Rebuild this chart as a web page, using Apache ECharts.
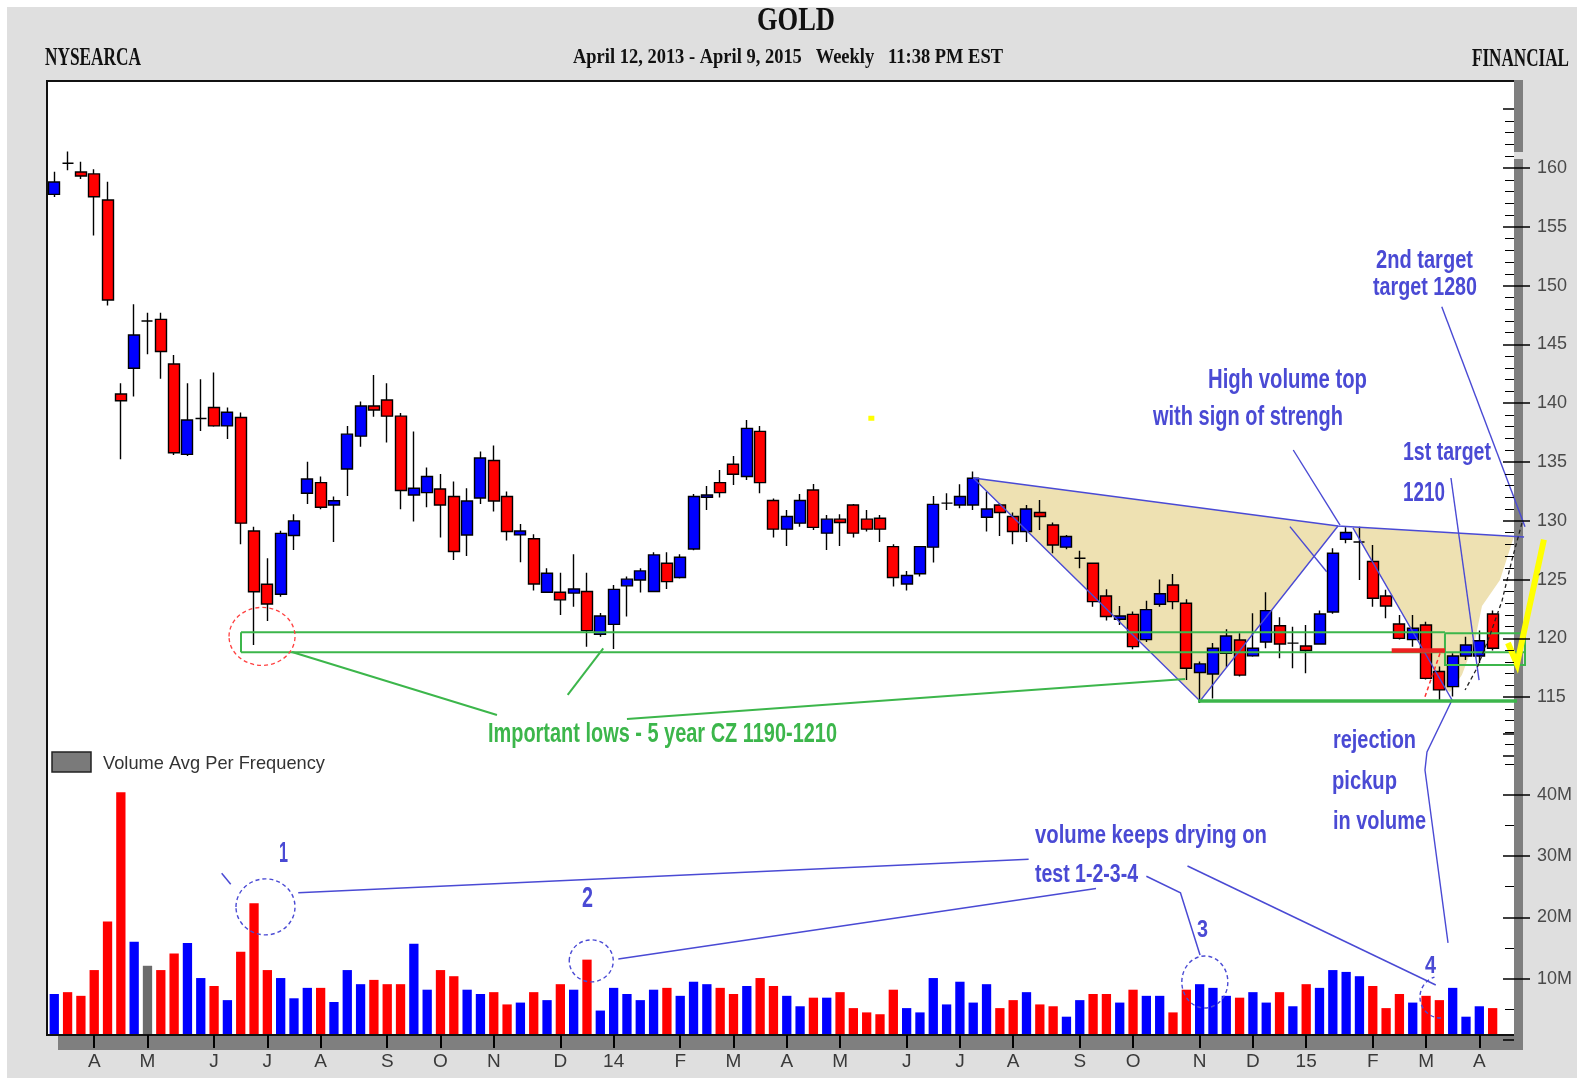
<!DOCTYPE html>
<html><head><meta charset="utf-8">
<script src="https://cdn.jsdelivr.net/npm/echarts/dist/echarts.min.js"></script>
<style>html,body{margin:0;padding:0;background:#fff;}#c{width:1577px;height:1083px;}</style>
</head><body><div id="c"></div>
<script>
// ---------------- DATA (weekly bars) ----------------
const openP = [157.76,160.4,159.66,159.5,157.28,140.78,142.97,146.99,147.13,143.33,
135.65,138.7,139.63,138.07,138.78,129.13,124.6,123.75,128.75,132.34,
133.25,131.34,134.41,137.2,139.76,140.27,138.9,132.2,132.4,132.7,
132.07,128.79,131.94,135.13,132.07,128.8,128.47,123.93,123.93,123.85,
123.99,120.35,121.19,124.47,124.97,123.99,126.39,125.18,127.6,132.0,
133.25,134.81,133.77,137.6,131.72,129.29,129.8,132.62,128.95,130.14,
131.34,130.14,130.22,127.8,124.63,125.5,127.76,131.5,131.34,131.34,
130.3,131.34,130.36,129.09,130.7,129.64,127.76,126.82,126.39,123.6,
121.63,122.04,119.9,122.9,124.54,122.99,117.1,116.97,118.74,119.86,
118.51,119.7,121.07,119.6,119.36,119.52,122.24,128.43,128.2,126.54,
123.6,121.22,119.9,121.14,117.18,115.9,118.5,118.5,122.07];
const closeP = [158.81,160.4,159.32,157.56,148.78,140.21,145.8,146.99,144.4,135.79,
138.57,138.7,138.07,139.23,129.8,123.97,122.93,128.93,129.99,133.55,
131.15,131.71,137.37,139.76,139.42,138.9,132.58,132.77,133.77,131.34,
127.39,131.68,135.34,131.68,129.09,129.13,124.63,125.54,123.28,124.2,
120.66,121.9,124.17,125.04,125.74,127.1,124.83,126.9,132.07,132.2,
132.4,133.96,137.86,133.25,129.29,130.36,131.72,129.44,130.14,129.85,
128.95,129.29,129.29,125.18,125.35,127.8,131.4,131.5,132.07,133.62,
131.0,130.7,129.09,131.0,130.36,127.94,128.67,126.82,123.13,121.86,
121.9,119.3,122.45,123.8,123.13,117.46,117.83,119.16,120.2,116.88,
119.16,122.36,119.52,119.6,118.97,122.07,127.24,129.0,128.2,123.42,
122.76,120.0,120.86,116.6,115.62,118.5,119.44,119.8,119.16];
const lowP = [157.53,159.8,159.06,154.26,148.3,135.24,140.57,144.16,142.08,135.6,
135.5,137.64,138.0,136.96,128.0,119.44,121.47,123.55,127.52,131.43,
130.98,128.19,132.1,136.3,138.85,136.66,130.98,129.94,131.15,128.58,
126.67,127.0,131.43,130.79,128.33,126.48,124.07,123.9,121.98,122.7,
119.3,120.15,119.1,121.86,123.9,123.95,124.2,125.1,127.5,130.92,
131.98,133.04,133.47,132.34,128.58,127.86,129.5,129.22,127.52,127.86,
128.58,129.09,128.19,124.41,124.07,125.26,126.45,130.92,131.07,130.92,
129.09,128.71,128.0,128.19,129.22,127.24,127.58,125.97,122.7,121.52,
121.14,119.08,119.7,122.7,122.48,116.46,114.5,114.9,117.55,116.75,
118.45,119.16,118.31,117.47,117.04,119.45,122.1,128.1,124.97,122.7,
121.72,119.9,119.3,116.5,114.76,115.05,118.16,117.9,118.97];
const highP = [159.69,161.4,160.54,159.9,158.84,141.69,148.41,147.7,147.7,144.1,
141.69,142.04,142.61,139.63,139.2,129.5,126.82,129.16,130.56,135.03,
133.77,132.07,138.06,140.14,142.4,141.69,139.17,137.6,134.53,133.98,
133.34,132.77,135.9,136.41,132.49,129.73,128.86,125.97,125.59,127.16,
125.59,122.15,124.54,125.26,125.97,127.33,127.33,127.16,132.27,132.96,
134.32,135.51,138.57,138.06,131.9,130.92,132.27,133.13,130.5,130.56,
131.43,130.92,130.5,128.0,125.74,127.85,132.1,132.34,133.1,134.19,
132.49,131.5,130.7,131.34,131.77,129.85,128.8,127.46,126.45,124.17,
122.76,122.28,123.2,125.0,125.48,123.33,118.03,119.6,120.77,120.43,
122.14,123.93,121.8,121.0,121.14,122.37,127.66,129.45,129.5,127.94,
124.13,122.0,122.0,121.42,117.6,118.74,120.15,120.67,122.37];
// volume in millions
const volumeM = [7.5,7.8,7.2,11.4,19.3,40.4,16.0,12.1,11.4,14.1,
15.8,10.1,8.8,6.5,14.4,22.3,11.4,10.1,6.8,8.5,
8.5,6.2,11.4,9.1,9.8,9.1,9.1,15.7,8.2,11.4,
10.4,8.2,7.5,7.8,5.8,6.1,7.8,6.5,9.1,8.2,
13.1,4.8,8.5,7.5,6.5,8.2,8.5,7.2,9.5,9.1,
8.5,7.5,8.8,10.1,8.8,7.2,5.5,6.9,6.9,7.8,
5.2,4.5,4.2,8.2,5.2,4.5,10.1,5.8,9.5,6.1,
9.1,5.2,6.5,7.8,5.8,5.5,3.8,6.5,7.5,7.5,
6.1,8.2,7.2,7.2,4.5,8.2,9.1,8.5,7.2,6.9,
7.8,6.1,7.8,5.5,9.1,8.5,11.4,11.1,10.4,8.8,
5.2,7.5,6.1,7.2,6.5,8.5,3.8,5.5,5.2];
// 1 = up week, -1 = down week, 0 = unchanged
const volumeSide = [1,-1,-1,-1,-1,-1,1,0,-1,-1,
1,1,-1,1,-1,-1,-1,1,1,1,
-1,1,1,1,-1,-1,-1,1,1,-1,
-1,1,1,-1,-1,1,-1,1,-1,1,
-1,1,1,1,1,1,-1,1,1,1,
-1,-1,1,-1,-1,1,1,-1,1,-1,
-1,-1,-1,-1,1,1,1,1,1,1,
1,-1,-1,1,-1,-1,1,1,-1,-1,
1,-1,1,1,-1,-1,1,1,1,-1,
1,1,-1,1,-1,1,1,1,1,-1,
-1,-1,1,-1,-1,1,1,1,-1];
const monthTickIndex = [3,7,12,16,20,25,29,33,38,42,47,51,55,59,64,68,72,77,81,86,90,94,99,103,107];
const monthTickLabels = ['A','M','J','J','A','S','O','N','D','14','F','M','A','M','J','J','A','S','O','N','D','15','F','M','A'];

// ---------------- ANNOTATIONS (in chart data coordinates: [week index, price] / [week index, volume M]) ----------------
const annoBlueLines = [
  [[69.0,133.64],[96.39,129.56],[110.36,128.62]],
  [[69.0,133.64],[86.03,114.68],[96.39,129.56]],
  [[104.87,133.64],[106.98,116.46]],
  [[104.18,148.21],[110.43,129.5]],
  [[93.03,136.02],[96.54,129.64]],
  [[92.78,129.5],[95.54,125.67]]
];
const rejectionPricePart = [[97.51,129.39],[104.95,114.76],[103.07,110.34]];
const rejectionVolPart = [[102.92,44.02],[104.65,15.82]];
const annoGreenLines = [
  [[14.02,120.52],[104.42,120.52]],
  [[14.02,118.82],[110.43,118.82]],
  [[14.02,120.52],[14.02,118.82]],
  [[104.42,120.43],[110.43,120.43],[110.43,117.74],[104.42,117.74],[104.42,120.43]],
  [[17.85,118.84],[33.24,113.49]],
  [[38.55,115.19],[41.22,119.16]],
  [[43.0,113.15],[84.9,116.55]]
];
const annoGreenThick = [[85.88,114.68],[109.83,114.68]];
const beigeAreas = [
  [[69.0,133.64],[96.39,129.56],[86.03,114.68]],
  [[97.51,129.45],[109.6,128.67],[108.55,124.97],[107.2,122.76],[106.68,119.86],[105.7,116.9],[104.8,115.44],[104.5,115.6]]
];
const cupCurve = [[110.2,129.81],[109.45,126.67],[108.7,123.18],[107.8,120.29],[106.83,117.48],[105.93,115.61]];
const redCircle = [15.6,120.17];
const redThick = [[100.42,118.97],[104.42,118.97]];
const redDash = [[104.05,118.73],[102.92,115.04]];
const yellowCheck = [[109.15,119.61],[109.83,117.82],[111.85,128.4]];
const yellowDot = [61.35,138.72];
const volBlueLines = [
  [[18.32,24.0],[73.16,29.46]],
  [[42.35,13.2],[78.22,24.7]],
  [[82.0,26.7],[84.56,24.0],[86.03,13.86]],
  [[85.09,28.37],[103.73,8.97]],
  [[12.57,27.18],[13.25,25.39]]
];
const volCircles = [[15.86,21.7,29.5,28],[40.32,12.9,22,21],[86.39,9.46,23,26]];
const volArc = [104.12,7.0,21];

// ---------------- CHART ----------------
const n = openP.length;
const cats = openP.map((_, i) => String(i));
const candleData = openP.map((o, i) => [o, closeP[i], lowP[i], highP[i]]);
const sideColor = {'1':'#0000ff','-1':'#ff0000','0':'#6b6b6b'};
const volData = volumeM.map((v, i) => ({value: v, itemStyle: {color: sideColor[String(volumeSide[i])]}}));
const tickSet = new Set(monthTickIndex);
const labelMap = {};
monthTickIndex.forEach((ix, k) => { labelMap[ix] = monthTickLabels[k]; });

function fontAvail(name){
  const c = document.createElement('canvas').getContext('2d');
  c.font = "20px monospace"; const a = c.measureText('abcdefghijklmnopMW0123').width;
  c.font = "20px '" + name + "', monospace"; const b = c.measureText('abcdefghijklmnopMW0123').width;
  return Math.abs(a - b) > 0.5;
}
const narrow = fontAvail('Liberation Sans Narrow');
const axisFont = narrow ? {fontFamily:'Liberation Sans Narrow', fontSize:21} : {fontFamily:'Liberation Sans', fontSize:18};

const L = 47.6, R = 77.7;
const NOLINE = {show:false, onZero:false};
const chart = echarts.init(document.getElementById('c'), null, {renderer:'canvas', width:1577, height:1083});
const option = {
  animation: false,
  backgroundColor: '#ffffff',
  grid: [
    {left:L, right:R, top:109.2, height:646.8, show:false, outerBoundsMode:'none', containLabel:false},
    {left:L, right:R, top:733.3, height:306.7, show:false, outerBoundsMode:'none', containLabel:false},
    {left:L, right:R, top:168, height:529.2, show:false, outerBoundsMode:'none', containLabel:false},
    {left:L, right:R, top:794.7, height:184, show:false, outerBoundsMode:'none', containLabel:false}
  ],
  xAxis: [
    {type:'category', gridIndex:0, data:cats, boundaryGap:true, show:false, axisLine:NOLINE},
    {type:'category', gridIndex:1, data:cats, boundaryGap:true, position:'bottom', offset:-5, z:10,
      axisLine:NOLINE,
      axisTick:{show:true, alignWithLabel:true, interval:(i)=>tickSet.has(i), length:13, lineStyle:{color:'#000', width:2}},
      axisLabel:{show:true, interval:(i)=>tickSet.has(i), formatter:(v, i)=>labelMap[i] || '', margin:17, color:'#3a3a3a',
        fontFamily:axisFont.fontFamily, fontSize:axisFont.fontSize+1, hideOverlap:false},
      splitLine:{show:false}},
    {type:'value', gridIndex:0, min:-0.5, max:n-0.5, show:false, axisLine:NOLINE},
    {type:'value', gridIndex:1, min:-0.5, max:n-0.5, show:false, axisLine:NOLINE},
    {type:'category', gridIndex:2, data:cats, show:false, axisLine:NOLINE},
    {type:'category', gridIndex:3, data:cats, show:false, axisLine:NOLINE}
  ],
  yAxis: [
    {type:'value', gridIndex:0, position:'right', offset:14.7, min:110, max:165, interval:5, z:10,
      axisLine:NOLINE, splitLine:{show:false}, axisLabel:{show:false},
      axisTick:{show:true, inside:true, length:11, lineStyle:{color:'#000', width:1.5}},
      minorTick:{show:true, splitNumber:5, length:9, lineStyle:{color:'#000', width:1}}, minorSplitLine:{show:false}},
    {type:'value', gridIndex:1, position:'right', offset:14.7, min:0, max:50, interval:10, z:10,
      axisLine:NOLINE, splitLine:{show:false}, axisLabel:{show:false},
      axisTick:{show:true, inside:true, length:11, lineStyle:{color:'#000', width:1.5}},
      minorTick:{show:true, splitNumber:2, length:9, lineStyle:{color:'#000', width:1}}, minorSplitLine:{show:false}},
    {type:'value', gridIndex:2, position:'right', offset:14.7, min:115, max:160, interval:5, z:10,
      axisLine:NOLINE, splitLine:{show:false},
      axisTick:{show:true, inside:false, length:16, lineStyle:{color:'#000', width:1.5}},
      axisLabel:{show:true, margin:23, color:'#4a4a4a', fontFamily:axisFont.fontFamily, fontSize:axisFont.fontSize}},
    {type:'value', gridIndex:3, position:'right', offset:14.7, min:10, max:40, interval:10, z:10,
      axisLine:NOLINE, splitLine:{show:false},
      axisTick:{show:true, inside:false, length:16, lineStyle:{color:'#000', width:1.5}},
      axisLabel:{show:true, margin:23, color:'#4a4a4a', fontFamily:axisFont.fontFamily, fontSize:axisFont.fontSize, formatter:(v)=>v+'M'}}
  ],
  series: [
    {type:'candlestick', name:'GOLD', xAxisIndex:0, yAxisIndex:0, data:candleData, barWidth:11.5, z:2,
      itemStyle:{color:'#0000ff', color0:'#ff0000', borderColor:'#000', borderColor0:'#000', borderColorDoji:'#000', borderWidth:1.4}},
    {type:'bar', name:'Volume', xAxisIndex:1, yAxisIndex:1, data:volData, barWidth:9.3, z:2}
  ]
};
chart.setOption(option);

// ---------------- GRAPHIC OVERLAY ----------------
const P = (pt) => chart.convertToPixel({xAxisIndex:2, yAxisIndex:0}, pt);
const V = (pt) => chart.convertToPixel({xAxisIndex:3, yAxisIndex:1}, pt);
const BLUE = '#4a4ad4', GREEN = '#3cb64b';
const G = [];
// frame
G.push({type:'rect', z:0, silent:true, shape:{x:7, y:7, width:1570, height:1071}, style:{fill:'#dfdfdf'}});
G.push({type:'rect', z:0.5, silent:true, shape:{x:47, y:81, width:1467, height:954}, style:{fill:'#ffffff'}});
G.push({type:'rect', z:3, silent:true, shape:{x:40, y:1036, width:18, height:8}, style:{fill:'#dfdfdf'}});
G.push({type:'rect', z:3, silent:true, shape:{x:58, y:1036, width:1465, height:14}, style:{fill:'#7f7f7f'}});
G.push({type:'rect', z:3, silent:true, shape:{x:1514, y:80, width:9, height:72}, style:{fill:'#7f7f7f'}});
G.push({type:'rect', z:3, silent:true, shape:{x:1514, y:159, width:9, height:891}, style:{fill:'#7f7f7f'}});
G.push({type:'line', z:4, silent:true, shape:{x1:46, y1:81, x2:1514, y2:81}, style:{stroke:'#111', lineWidth:2}});
G.push({type:'line', z:4, silent:true, shape:{x1:47, y1:81, x2:47, y2:1036}, style:{stroke:'#111', lineWidth:2}});
G.push({type:'line', z:4, silent:true, shape:{x1:47, y1:1035, x2:1514, y2:1035}, style:{stroke:'#111', lineWidth:2}});

// beige areas
beigeAreas.forEach(a => G.push({type:'polygon', z:1, silent:true, shape:{points:a.map(P)}, style:{fill:'#eee1b2', stroke:null}}));
function pl(points, stroke, lw, dash, z){
  return {type:'polyline', z:z||6, silent:true, shape:{points}, style:{stroke, lineWidth:lw, lineDash:dash||null, fill:null}};
}
annoBlueLines.forEach(l => G.push(pl(l.map(P), BLUE, 1.4)));
G.push(pl(rejectionPricePart.map(P).concat(rejectionVolPart.map(V)), BLUE, 1.4));
annoGreenLines.forEach(l => G.push(pl(l.map(P), GREEN, 2)));
G.push(pl(annoGreenThick.map(P), GREEN, 3.5));
G.push(pl(cupCurve.map(P), '#222', 1.3, [4,3]));
const rc = P(redCircle);
G.push({type:'ellipse', z:6, silent:true, shape:{cx:rc[0], cy:rc[1], rx:33, ry:29}, style:{stroke:'#ff4040', lineWidth:1.3, lineDash:[4,3], fill:null}});
G.push(pl(redThick.map(P), '#ee2020', 4.5));
G.push(pl(redDash.map(P), '#ff3030', 1.5, [4,3]));
G.push({type:'polyline', z:7, silent:true, shape:{points:yellowCheck.map(P)}, style:{stroke:'#ffff00', lineWidth:6, fill:null, lineJoin:'miter'}});
const yd = P(yellowDot);
G.push({type:'rect', z:6, silent:true, shape:{x:yd[0]-3, y:yd[1]-2.5, width:6, height:5}, style:{fill:'#ffff00'}});
volBlueLines.forEach(l => G.push(pl(l.map(V), BLUE, 1.5)));
volCircles.forEach(c => { const p = V([c[0], c[1]]); G.push({type:'ellipse', z:6, silent:true, shape:{cx:p[0], cy:p[1], rx:c[2], ry:c[3]}, style:{stroke:BLUE, lineWidth:1.4, lineDash:[4,3], fill:null}}); });
const ac = V([volArc[0], volArc[1]]);
G.push({type:'arc', z:6, silent:true, shape:{cx:ac[0], cy:ac[1], r:volArc[2], startAngle:Math.PI*0.5, endAngle:Math.PI*1.4, clockwise:true}, style:{stroke:BLUE, lineWidth:1.4, lineDash:[4,3], fill:null}});

// texts
const meas = document.createElement('canvas').getContext('2d');
function fitText(text, left, cy, width, font, fill){
  meas.font = font;
  const w = meas.measureText(text).width || 1;
  return {type:'text', z:8, silent:true, x:left, y:cy, scaleX:width / w, originX:0, originY:0,
    style:{text, font, fill, textAlign:'left', textVerticalAlign:'middle', align:'left', verticalAlign:'middle'}};
}
const SERIF = '"Liberation Serif", "Times New Roman", serif';
const SANS = '"Liberation Sans", Arial, sans-serif';
const texts = [
  ['GOLD', 757, 21, 78, 'bold 33px ' + SERIF, '#111'],
  ['NYSEARCA', 45, 59, 96, 'bold 25px ' + SERIF, '#111'],
  ['April 12, 2013 - April 9, 2015   Weekly   11:38 PM EST', 573, 57, 430, 'bold 22px ' + SERIF, '#111'],
  ['FINANCIAL', 1472, 60, 97, 'bold 25px ' + SERIF, '#111'],
  ['2nd target', 1376, 261, 97, 'bold 25px ' + SANS, BLUE],
  ['target 1280', 1373, 288, 104, 'bold 25px ' + SANS, BLUE],
  ['High volume top', 1208, 381, 159, 'bold 27px ' + SANS, BLUE],
  ['with sign of strengh', 1153, 418, 190, 'bold 27px ' + SANS, BLUE],
  ['1st target', 1403, 453, 88, 'bold 26px ' + SANS, BLUE],
  ['1210', 1403, 493, 42, 'bold 28px ' + SANS, BLUE],
  ['rejection', 1333, 741, 83, 'bold 25px ' + SANS, BLUE],
  ['pickup', 1332, 782, 65, 'bold 25px ' + SANS, BLUE],
  ['in volume', 1333, 822, 93, 'bold 25px ' + SANS, BLUE],
  ['volume keeps drying on', 1035, 836, 232, 'bold 25px ' + SANS, BLUE],
  ['test 1-2-3-4', 1035, 875, 103, 'bold 25px ' + SANS, BLUE],
  ['1', 279, 854, 9, 'bold 29px ' + SANS, BLUE],
  ['2', 582, 899, 11, 'bold 29px ' + SANS, BLUE],
  ['3', 1197, 930, 11, 'bold 24px ' + SANS, BLUE],
  ['4', 1425, 966, 11, 'bold 24px ' + SANS, BLUE],
  ['Important lows - 5 year CZ 1190-1210', 488, 735, 349, 'bold 27px ' + SANS, GREEN],
  ['Volume Avg Per Frequency', 103, 764, 222, '19px ' + SANS, '#333']
];
texts.forEach(t => G.push(fitText(t[0], t[1], t[2], t[3], t[4], t[5])));
G.push({type:'rect', z:6, silent:true, shape:{x:52, y:752, width:39, height:20}, style:{fill:'#7a7a7a', stroke:'#222', lineWidth:1.5}});

chart.setOption({graphic: G});
</script>
</body></html>
